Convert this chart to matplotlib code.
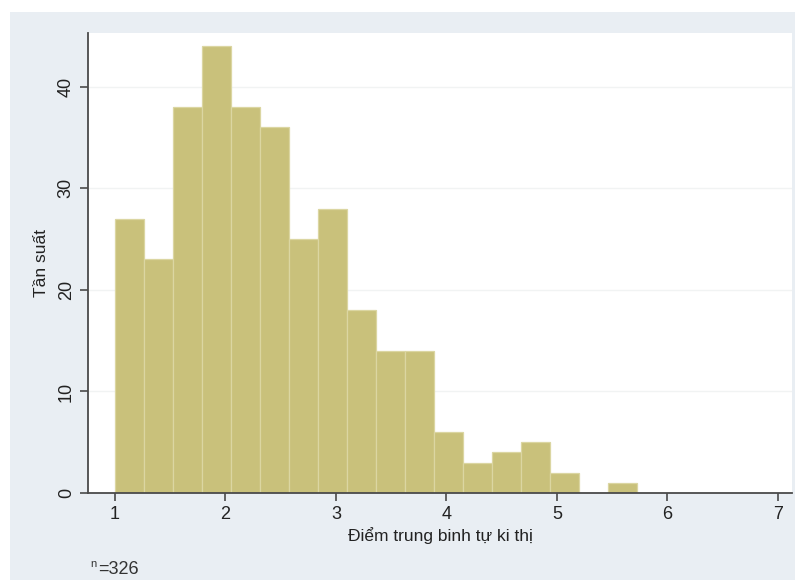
import numpy as np
import matplotlib.pyplot as plt
from matplotlib.patches import Rectangle

plt.rcParams['font.family'] = ['Liberation Sans', 'DejaVu Sans']

# du lieu doc tu hinh
counts = [27, 23, 38, 44, 38, 36, 25, 28, 18, 14, 14, 6, 3, 4, 5, 2, 0, 1]
bin_min = 1.0
bin_max = 5.725
x_ticks = [1, 2, 3, 4, 5, 6, 7]
y_ticks = [0, 10, 20, 30, 40]
n_obs = 326

edges = np.linspace(bin_min, bin_max, len(counts) + 1)
width = edges[1] - edges[0]

fig = plt.figure(figsize=(8, 5.85), dpi=100)
fig.patch.set_facecolor('white')
# nen xam kieu Stata
fig.patches.append(Rectangle((10 / 800, 1 - 580 / 585), 785 / 800, 568 / 585,
                             transform=fig.transFigure, facecolor='#e9eef3',
                             edgecolor='none', zorder=-1))

ax = fig.add_axes([88 / 800, 1 - 493 / 585, 704 / 800, 460 / 585])
ax.set_facecolor('white')

ax.bar(edges[:-1], counts, width=width, align='edge', color='#c9c17b',
       edgecolor='#dbd6a2', linewidth=0.9, zorder=2)

ax.set_xlim(0.756, 7.127)
ax.set_ylim(0, 45.3)
ax.set_xticks(x_ticks)
ax.set_yticks(y_ticks)
ax.yaxis.grid(True, color='#f1f3f3', linewidth=1)
ax.set_axisbelow(True)

for s in ['top', 'right']:
    ax.spines[s].set_visible(False)
for s in ['left', 'bottom']:
    ax.spines[s].set_color('#4a4a4a')
    ax.spines[s].set_linewidth(1.3)

ax.tick_params(axis='both', direction='out', length=6, width=1.2,
               color='#4a4a4a', labelsize=13, labelcolor='#222222')
plt.setp(ax.get_yticklabels(), rotation=90, va='center')

ax.set_xlabel('Điểm trung binh tự ki thị', fontsize=12.5, color='#222222', labelpad=3)
ax.set_ylabel('Tần suất', fontsize=12.5, color='#222222', labelpad=6)

fig.text(90 / 800, 1 - 567 / 585, 'n', fontsize=8, color='#333333', va='baseline')
fig.text(98 / 800, 1 - 574 / 585, '=' + str(n_obs), fontsize=13,
         color='#333333', va='baseline')

fig.savefig('out.png', dpi=100)
